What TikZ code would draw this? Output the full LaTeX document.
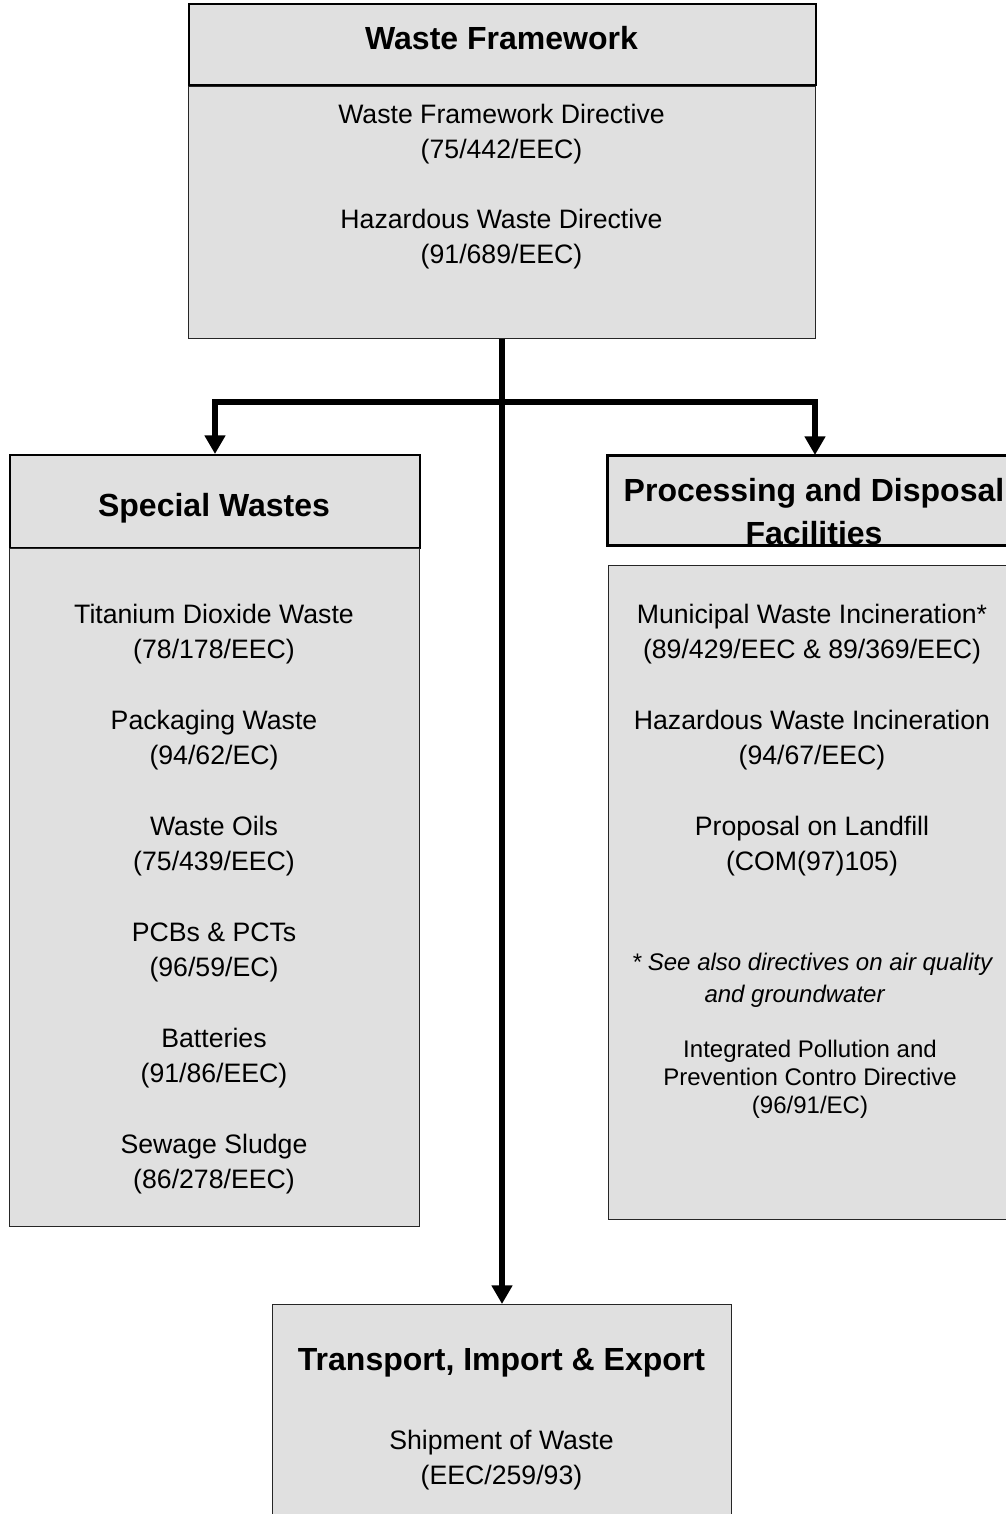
\documentclass[tikz,border=0pt]{standalone}
\usepackage{fontspec}
\setmainfont{Liberation Sans}
\usetikzlibrary{arrows.meta}

\definecolor{boxgray}{RGB}{224,224,224}

\tikzset{every picture/.style={line width=0.75pt}}
\tikzset{
	hdrbox/.style={draw=black, line width=1.5pt, fill=boxgray, inner sep=0pt, anchor=north west},
	bodybox/.style={draw=black!85, line width=0.75pt, fill=boxgray, inner sep=0pt, anchor=north west},
	flow/.style={line width=4.5pt, -{Triangle[width=15pt,length=14pt]}},
	ttl/.style={font=\fontsize{24}{32.25}\selectfont\bfseries, align=center, inner sep=0.75pt},
	txt/.style={font=\fontsize{20}{26.25}\selectfont, align=center, inner sep=0.75pt},
	note/.style={font=\fontsize{18}{21}\selectfont, align=center, inner sep=0.75pt},
}

\begin{document}
\begin{tikzpicture}[x=0.75pt,y=0.75pt,yscale=-1,xscale=1]
	\useasboundingbox (0,0) rectangle (1006,1514);
	
	% Waste Framework
	\node [hdrbox, minimum width=470.25pt, minimum height=60.75pt] (fwhead) at (188,3) {};
	\node [bodybox, minimum width=470.25pt, minimum height=189pt] (fwbody) at (188,86) {};
	% Special Wastes
	\node [hdrbox, minimum width=307.5pt, minimum height=69.75pt] (swhead) at (9,454) {};
	\node [bodybox, minimum width=307.5pt, minimum height=508.5pt] (swbody) at (9,548) {};
	% Processing and Disposal
	\node [hdrbox, minimum width=310.5pt, minimum height=66.75pt] (pdhead) at (607,455) {};
	\node [bodybox, minimum width=309.75pt, minimum height=490.5pt] (pdbody) at (608,565) {};
	% Transport
	\node [bodybox, minimum width=344.25pt, minimum height=172.5pt] (tiebox) at (272,1304) {};
	
	% Connection
	\coordinate (split) at (501.5,402);
	\draw [flow] (fwbody.south) -- (tiebox.north);
	\draw [flow] (split) -| (swhead.north);
	\draw [flow] (split) -| (pdhead.north);
	
	% Text Node
	\node [ttl] (fwtitle) at (501.5,38.5) {Waste Framework};
	\node [txt] (fwd) at (501.5,134.5) {Waste Framework Directive\\(75/442/EEC)};
	\node [txt] (hwd) at (501.5,239.5) {Hazardous Waste Directive\\(91/689/EEC)};
	
	% Text Node
	\node [ttl] (swtitle) at (214,508) {Special Wastes};
	\node [txt] (tdw) at (214,634.5) {Titanium Dioxide Waste\\(78/178/EEC)};
	\node [txt] (pkw) at (214,740.5) {Packaging Waste\\(94/62/EC)};
	\node [txt] (wol) at (214,846.5) {Waste Oils\\(75/439/EEC)};
	\node [txt] (pcb) at (214,952.5) {PCBs \& PCTs\\(96/59/EC)};
	\node [txt] (bat) at (214,1058.5) {Batteries\\(91/86/EEC)};
	\node [txt] (ssl) at (214,1164.5) {Sewage Sludge\\(86/278/EEC)};
	
	% Text Node
	\begin{scope}
		\clip (pdhead.north west) rectangle (pdhead.south east);
		\node [ttl] (pdtitle) at (814,511.5) {Processing and Disposal\\Facilities};
	\end{scope}
	\draw [line width=1.5pt] (pdhead.north west) rectangle (pdhead.south east);
	\node [txt] (mwi) at (812,634.5) {Municipal Waste Incineration*\\(89/429/EEC \& 89/369/EEC)};
	\node [txt] (hwi) at (812,740.5) {Hazardous Waste Incineration\\(94/67/EEC)};
	\node [txt] (plf) at (812,846.5) {Proposal on Landfill\\(COM(97)105)};
	\node [note, font=\fontsize{18}{24}\selectfont\itshape] (seealso) at (812,964) {* See also directives on air quality};
	\node [note, font=\fontsize{18}{24}\selectfont\itshape, anchor=west] (seealso2) at (703,996) {and groundwater};
	\node [note] (ippc) at (810,1079) {Integrated Pollution and\\Prevention Contro Directive\\(96/91/EC)};
	
	% Text Node
	\node [ttl] (tietitle) at (501.5,1363) {Transport, Import \& Export};
	\node [txt] (ship) at (501.5,1460.5) {Shipment of Waste\\(EEC/259/93)};
	
\end{tikzpicture}
\end{document}
